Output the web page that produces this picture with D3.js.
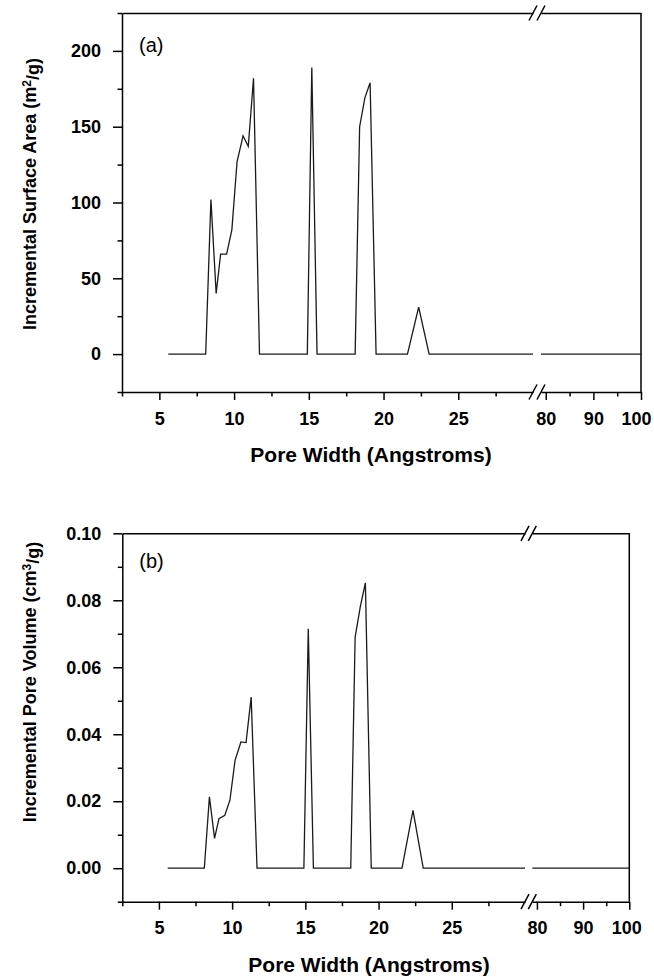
<!DOCTYPE html>
<html>
<head>
<meta charset="utf-8">
<script src="https://cdn.jsdelivr.net/npm/d3@7"></script>
<style>
  body { margin: 0; background: #fff; }
  svg { display: block; }
  text { font-family: "Liberation Sans", Arial, sans-serif; }
</style>
</head>
<body>
<div id="chart"></div>
<script>
// pore widths (Angstroms), shared by both panels
const poreWidth = [5.6, 8.1, 8.45, 8.8, 9.1, 9.5, 9.85, 10.2, 10.6, 10.95, 11.3, 11.7,
  14.9, 15.2, 15.55, 18.1, 18.4, 18.75, 19.1, 19.5, 21.6, 22.35, 23.05, 30];
const poreWidthFar = [79, 100];

// (a) incremental surface area, m2/g
const surfaceArea = [0, 0, 102, 40, 66, 66, 82, 127, 144, 137, 182, 0,
  0, 189, 0, 0, 150, 169, 179, 0, 0, 31, 0, 0];
const surfaceAreaFar = [0, 0];

// (b) incremental pore volume, cm3/g
const poreVolume = [0, 0, 0.0213, 0.0089, 0.0148, 0.0158, 0.0203, 0.0322, 0.0377, 0.0375, 0.0511, 0,
  0, 0.0715, 0, 0, 0.069, 0.078, 0.0852, 0, 0, 0.0173, 0, 0];
const poreVolumeFar = [0, 0];

const xMajorNear = [5, 10, 15, 20, 25];
const xMinorNear = [2.5, 7.5, 12.5, 17.5, 22.5, 27.5];
const xMajorFar = [80, 90, 100];
const xMinorFar = [85, 95];

const areaMajor = [0, 50, 100, 150, 200];
const areaMinor = [-25, 25, 75, 125, 175, 225];
const volumeMajor = [0, 0.02, 0.04, 0.06, 0.08, 0.10];
const volumeMinor = [-0.01, 0.01, 0.03, 0.05, 0.07, 0.09];

const W = 654, H = 977;
const svg = d3.select("#chart").append("svg").attr("width", W).attr("height", H);

function drawPanel(p) {
  const g = svg.append("g");
  const xNear = d3.scaleLinear().domain([2.5, 30]).range([p.left, p.breakL]);
  const xFar = d3.scaleLinear().domain([79, 100]).range([p.breakR, p.right]);
  const y = d3.scaleLinear().domain(p.yDomain).range([p.bottom, p.top]);

  // bottom axis, two pieces, plus the matching top frame pieces
  const addX = (scale, major, minor) => {
    g.append("g")
      .attr("transform", `translate(0,${p.bottom})`)
      .call(d3.axisBottom(scale).tickValues(minor).tickSize(4.5).tickSizeOuter(0).tickFormat(""))
      .call(a => a.select(".domain").remove());
    g.append("g")
      .attr("class", "xaxis")
      .attr("transform", `translate(0,${p.bottom})`)
      .call(d3.axisBottom(scale).tickValues(major).tickSize(8).tickSizeOuter(0).tickPadding(12).tickFormat(d3.format("d")));
    g.append("g")
      .attr("transform", `translate(0,${p.top})`)
      .call(d3.axisTop(scale).tickValues([]).tickSizeOuter(0));
  };
  addX(xNear, xMajorNear, xMinorNear);
  addX(xFar, xMajorFar, xMinorFar);

  // the last label sits a little inside the frame, as in the original
  g.selectAll(".xaxis .tick text")
    .filter(d => d === 100)
    .attr("dx", p.lastLabelShift);

  // left axis
  g.append("g")
    .attr("transform", `translate(${p.left},0)`)
    .call(d3.axisLeft(y).tickValues(p.yMinor).tickSize(4.5).tickFormat(""))
    .call(a => a.select(".domain").remove());
  g.append("g")
    .attr("class", "yaxis")
    .attr("transform", `translate(${p.left},0)`)
    .call(d3.axisLeft(y).tickValues(p.yMajor).tickSize(9).tickSizeOuter(0).tickPadding(12).tickFormat(p.yFormat));

  // right frame
  g.append("line")
    .attr("x1", p.right).attr("x2", p.right)
    .attr("y1", p.top).attr("y2", p.bottom)
    .attr("stroke", "#000").attr("stroke-width", 1.5);

  g.selectAll(".domain, .tick line").attr("stroke", "#000").attr("stroke-width", 1.5);
  g.selectAll(".tick text")
    .attr("fill", "#000")
    .style("font-size", "18px")
    .style("font-weight", "bold");

  // break marks "//" on top and bottom axes
  const breakMarks = [];
  [p.top, p.bottom].forEach(yy => {
    [p.breakL, p.breakR].forEach(xx => breakMarks.push([xx, yy]));
  });
  g.selectAll("line.brk")
    .data(breakMarks)
    .enter()
    .append("line")
    .attr("class", "brk")
    .attr("x1", d => d[0] - 4).attr("y1", d => d[1] + 7.5)
    .attr("x2", d => d[0] + 4).attr("y2", d => d[1] - 7.5)
    .attr("stroke", "#000").attr("stroke-width", 1.5);

  // data lines
  const line = (xs) => d3.line().x(d => xs(d[0])).y(d => y(d[1]));
  g.append("path")
    .datum(d3.zip(poreWidth, p.values))
    .attr("fill", "none").attr("stroke", "#1a1a1a").attr("stroke-width", 1.3)
    .attr("d", line(xNear));
  g.append("path")
    .datum(d3.zip(poreWidthFar, p.valuesFar))
    .attr("fill", "none").attr("stroke", "#1a1a1a").attr("stroke-width", 1.3)
    .attr("d", line(xFar));

  // panel letter
  g.append("text")
    .attr("x", p.left + 17).attr("y", p.letterY)
    .attr("dy", "0.35em")
    .style("font-size", "20px")
    .text(p.letter);

  // axis titles
  g.append("text")
    .attr("x", p.xTitleX).attr("y", p.xTitleY)
    .attr("dy", "0.35em")
    .attr("text-anchor", "middle")
    .style("font-size", "21px").style("font-weight", "bold")
    .text("Pore Width (Angstroms)");

  const yt = g.append("text")
    .attr("transform", `translate(${p.yTitleX},${p.yTitleY}) rotate(-90)`)
    .attr("dy", "0.35em")
    .attr("text-anchor", "middle")
    .style("font-size", "18px").style("font-weight", "bold");
  yt.append("tspan").text(p.yTitle[0]);
  yt.append("tspan").attr("dy", "-0.45em").style("font-size", "12px").text(p.yTitle[1]);
  yt.append("tspan").attr("dy", "0.45em").text(p.yTitle[2]);
}

drawPanel({
  left: 122, right: 641, top: 13, bottom: 392, breakL: 533, breakR: 541,
  yDomain: [-25, 225], yMajor: areaMajor, yMinor: areaMinor, yFormat: d3.format("d"),
  values: surfaceArea, valuesFar: surfaceAreaFar,
  letter: "(a)", letterY: 45, lastLabelShift: -5,
  xTitleX: 371, xTitleY: 455,
  yTitleX: 30, yTitleY: 194,
  yTitle: ["Incremental Surface Area (m", "2", "/g)"]
});

drawPanel({
  left: 122.3, right: 629.3, top: 533.3, bottom: 901.7, breakL: 525, breakR: 532.3,
  yDomain: [-0.01, 0.10], yMajor: volumeMajor, yMinor: volumeMinor, yFormat: d3.format(".2f"),
  values: poreVolume, valuesFar: poreVolumeFar,
  letter: "(b)", letterY: 561, lastLabelShift: -3,
  xTitleX: 369, xTitleY: 965,
  yTitleX: 30, yTitleY: 682,
  yTitle: ["Incremental Pore Volume (cm", "3", "/g)"]
});
</script>
</body>
</html>
